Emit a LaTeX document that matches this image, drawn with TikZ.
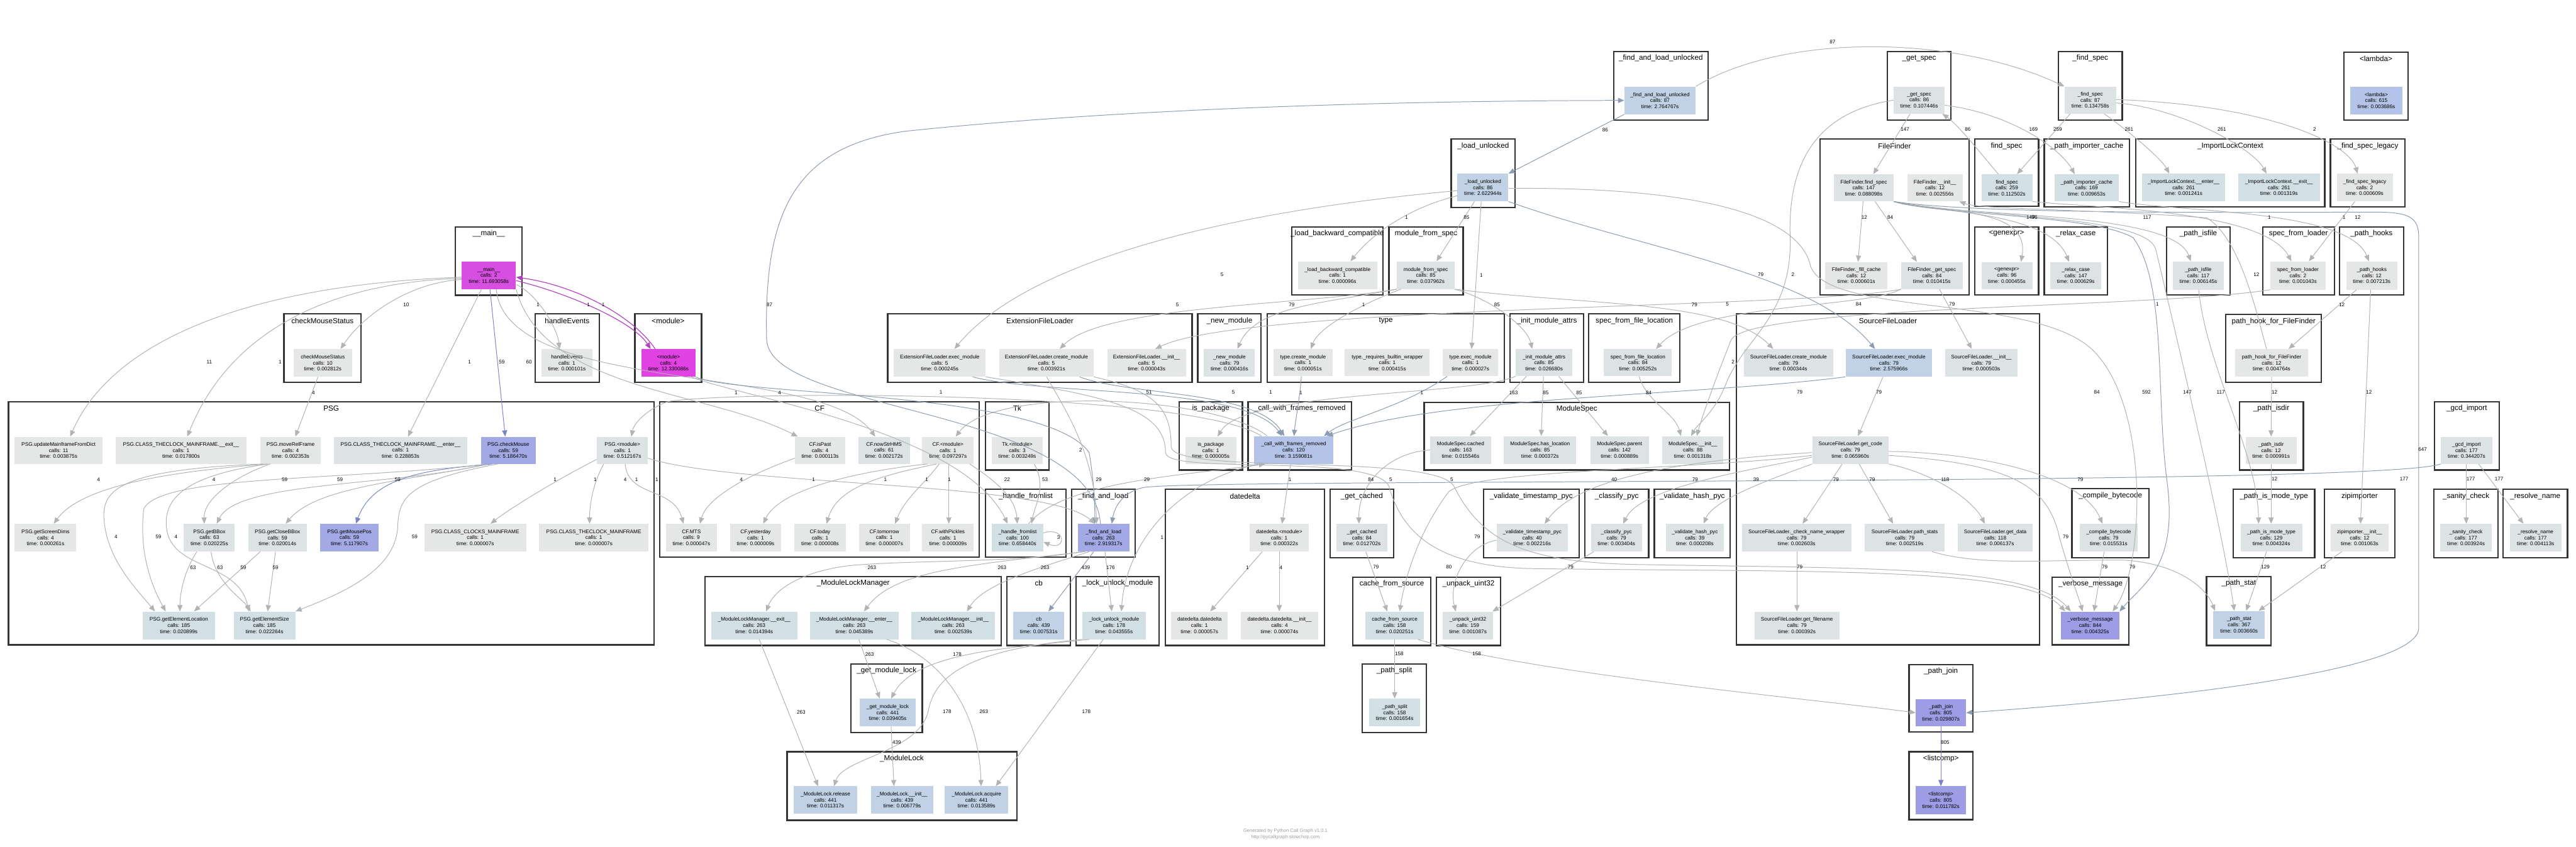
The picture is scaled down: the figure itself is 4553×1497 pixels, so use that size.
\documentclass[tikz,border=0pt]{standalone}
\usepackage{fontspec}
\setmainfont{Liberation Sans}
\usetikzlibrary{arrows.meta,calc}
\definecolor{fGrey}{HTML}{E5E6E6}
\definecolor{fBG}{HTML}{DDE3E5}
\definecolor{fLB}{HTML}{D2E0E5}
\definecolor{fB}{HTML}{C1D2E6}
\definecolor{fBtwo}{HTML}{B4C4E8}
\definecolor{fP}{HTML}{A2A9E4}
\definecolor{fPtwo}{HTML}{9D9DE6}
\definecolor{fMone}{HTML}{D74FE0}
\definecolor{fMtwo}{HTML}{E042E4}
\definecolor{colEG}{HTML}{B0B4B4}
\definecolor{colEB}{HTML}{8E9CB2}
\definecolor{colEP}{HTML}{7C84C8}
\definecolor{colEM}{HTML}{B440C4}
\definecolor{colCL}{HTML}{333333}
\definecolor{colFT}{HTML}{A0A0A0}
\tikzset{
  fnode/.style={rectangle,draw=none,inner sep=0pt,align=center,font=\fontsize{9.2}{10.7}\selectfont},
  cbox/.style={draw=colCL,line width=2.5pt},
  ctitle/.style={inner sep=0pt,font=\fontsize{13}{15}\selectfont},
  elab/.style={inner sep=0pt,font=\fontsize{9}{10}\selectfont},
  edg/.style={draw=colEG,line width=1.1pt,-{Triangle[length=11pt,width=9pt]}},
  edb/.style={draw=colEB,line width=1.1pt,-{Triangle[length=11pt,width=9pt]}},
  edp/.style={draw=colEP,line width=1.1pt,-{Triangle[length=11pt,width=9pt]}},
  edm/.style={draw=colEM,line width=1.3pt,-{Triangle[length=11pt,width=9pt]}},
  foot/.style={inner sep=0pt,text=colFT,font=\fontsize{8.5}{10}\selectfont}
}
\newcommand{\mkn}[7]{\node[fnode,fill=#6,minimum width={(#4)-(#2)},minimum height={(#5)-(#3)}] (#1) at ({((#2)+(#4))/2},{((#3)+(#5))/2}) {#7};}
\newcommand{\mkc}[6]{\draw[cbox] (#2,#3) rectangle (#4,#5); \node[ctitle] (#1) at ({((#2)+(#4))/2},{(#3)+12}) {#6};}
\newcommand{\lbl}[4]{\node[elab] (#1) at (#2,#3) {#4};}
\begin{document}
\begin{tikzpicture}[x=1pt,y=-1pt]
\fill[white] (0,0) rectangle (4553,1497);
\useasboundingbox (0,0) rectangle (4553,1497);
% ---------------- clusters ----------------
\mkc{cFalu}{2852}{91}{3019}{212}{\_find\_and\_load\_unlocked}
\mkc{cGetspec}{3336}{91}{3448}{212}{\_get\_spec}
\mkc{cFindspecu}{3638}{91}{3751}{212}{\_find\_spec}
\mkc{cLambda}{4143}{92}{4256}{212}{<lambda>}
\mkc{cLu}{2565}{246}{2678}{367}{\_load\_unlocked}
\mkc{cFF}{3217}{246}{3480}{521}{FileFinder}
\mkc{cFspec}{3490}{246}{3603}{365}{find\_spec}
\mkc{cPic}{3613}{246}{3764}{366}{\_path\_importer\_cache}
\mkc{cIlc}{3775}{246}{4109}{366}{\_ImportLockContext}
\mkc{cFsl}{4119}{246}{4251}{366}{\_find\_spec\_legacy}
\mkc{cMain}{805}{401}{923}{522}{\_\_main\_\_}
\mkc{cLbc}{2283}{401}{2444}{521}{\_load\_backward\_compatible}
\mkc{cMfs}{2455}{401}{2586}{521}{module\_from\_spec}
\mkc{cGenexpr}{3490}{401}{3603}{521}{<genexpr>}
\mkc{cRelax}{3613}{401}{3725}{521}{\_relax\_case}
\mkc{cPisfile}{3829}{401}{3942}{521}{\_path\_isfile}
\mkc{cSfl}{3999}{401}{4126}{521}{spec\_from\_loader}
\mkc{cPhooks}{4135}{401}{4248}{521}{\_path\_hooks}
\mkc{cCms}{502}{555}{638}{676}{checkMouseStatus}
\mkc{cHev}{946}{555}{1059}{676}{handleEvents}
\mkc{cMod}{1122}{555}{1240}{676}{<module>}
\mkc{cEfl}{1569}{555}{2107}{676}{ExtensionFileLoader}
\mkc{cNewmod}{2117}{555}{2229}{676}{\_new\_module}
\mkc{cType}{2240}{555}{2659}{676}{type}
\mkc{cIma}{2669}{555}{2799}{676}{\_init\_module\_attrs}
\mkc{cSffl}{2808}{555}{2969}{676}{spec\_from\_file\_location}
\mkc{cSrc}{3069}{555}{3605}{1140}{SourceFileLoader}
\mkc{cPhff}{3934}{556}{4103}{676}{path\_hook\_for\_FileFinder}
\mkc{cPSG}{15}{710}{1156}{1140}{PSG}
\mkc{cCF}{1166}{710}{1731}{985}{CF}
\mkc{cTk}{1742}{710}{1854}{831}{Tk}
\mkc{cIspkg}{2084}{710}{2196}{831}{is\_package}
\mkc{cCwfr}{2206}{710}{2389}{831}{\_call\_with\_frames\_removed}
\mkc{cMS}{2517}{711}{3057}{831}{ModuleSpec}
\mkc{cPisdir}{3958}{710}{4071}{831}{\_path\_isdir}
\mkc{cGcd}{4303}{710}{4417}{831}{\_gcd\_import}
\mkc{cHfl}{1742}{865}{1884}{985}{\_handle\_fromlist}
\mkc{cFal}{1894}{865}{2006}{985}{\_find\_and\_load}
\mkc{cDd}{2060}{865}{2341}{1141}{datedelta}
\mkc{cGc}{2351}{865}{2463}{986}{\_get\_cached}
\mkc{cVts}{2622}{865}{2791}{986}{\_validate\_timestamp\_pyc}
\mkc{cCpyc}{2801}{865}{2914}{986}{\_classify\_pyc}
\mkc{cVhp}{2924}{865}{3058}{986}{\_validate\_hash\_pyc}
\mkc{cCompile}{3662}{864}{3798}{986}{\_compile\_bytecode}
\mkc{cPimt}{3947}{865}{4091}{986}{\_path\_is\_mode\_type}
\mkc{cZip}{4108}{865}{4233}{986}{zipimporter}
\mkc{cSanity}{4302}{865}{4415}{986}{\_sanity\_check}
\mkc{cResolve}{4424}{865}{4538}{986}{\_resolve\_name}
\mkc{cMlm}{1246}{1019}{1770}{1141}{\_ModuleLockManager}
\mkc{cCb}{1780}{1019}{1892}{1141}{cb}
\mkc{cLum}{1902}{1019}{2049}{1141}{\_lock\_unlock\_module}
\mkc{cCfs}{2391}{1020}{2529}{1141}{cache\_from\_source}
\mkc{cUnpack}{2539}{1020}{2652}{1141}{\_unpack\_uint32}
\mkc{cVmsg}{3627}{1020}{3763}{1140}{\_verbose\_message}
\mkc{cPstat}{3900}{1019}{4014}{1141}{\_path\_stat}
\mkc{cGml}{1504}{1174}{1630}{1295}{\_get\_module\_lock}
\mkc{cPsplit}{2408}{1174}{2521}{1295}{\_path\_split}
\mkc{cPjoin}{3374}{1175}{3487}{1294}{\_path\_join}
\mkc{cMl}{1391}{1329}{1797}{1450}{\_ModuleLock}
\mkc{cListcomp}{3374}{1329}{3487}{1449}{<listcomp>}
% ---------------- nodes ----------------
\mkn{falu}{2871}{153}{2997}{202}{fB}{\_find\_and\_load\_unlocked\\calls: 87\\time: 2.764767s}
\mkn{getspec}{3347}{153}{3437}{201}{fBG}{\_get\_spec\\calls: 86\\time: 0.107446s}
\mkn{findspecu}{3649}{153}{3740}{201}{fBG}{\_find\_spec\\calls: 87\\time: 0.134758s}
\mkn{lambda}{4154}{153}{4246}{202}{fBtwo}{<lambda>\\calls: 615\\time: 0.003686s}
\mkn{lu}{2576}{307}{2666}{356}{fB}{\_load\_unlocked\\calls: 86\\time: 2.622944s}
\mkn{fffind}{3241}{308}{3347}{356}{fBG}{FileFinder.find\_spec\\calls: 147\\time: 0.088098s}
\mkn{ffinit}{3371}{308}{3469}{356}{fGrey}{FileFinder.\_\_init\_\_\\calls: 12\\time: 0.002556s}
\mkn{fspec}{3502}{308}{3592}{356}{fLB}{find\_spec\\calls: 259\\time: 0.112502s}
\mkn{pic}{3631}{308}{3745}{356}{fLB}{\_path\_importer\_cache\\calls: 169\\time: 0.009653s}
\mkn{ilcenter}{3786}{307}{3933}{356}{fLB}{\_ImportLockContext.\_\_enter\_\_\\calls: 261\\time: 0.001241s}
\mkn{ilcexit}{3956}{307}{4100}{356}{fLB}{\_ImportLockContext.\_\_exit\_\_\\calls: 261\\time: 0.001319s}
\mkn{fsl}{4130}{307}{4229}{356}{fGrey}{\_find\_spec\_legacy\\calls: 2\\time: 0.000609s}
\mkn{main}{816}{462}{912}{511}{fMone}{\_\_main\_\_\\calls: 2\\time: 11.693058s}
\mkn{lbc}{2294}{462}{2434}{511}{fGrey}{\_load\_backward\_compatible\\calls: 1\\time: 0.000096s}
\mkn{mfs}{2469}{462}{2571}{511}{fBG}{module\_from\_spec\\calls: 85\\time: 0.037962s}
\mkn{fffill}{3226}{463}{3336}{511}{fGrey}{FileFinder.\_fill\_cache\\calls: 12\\time: 0.000601s}
\mkn{ffget}{3360}{463}{3469}{511}{fBG}{FileFinder.\_get\_spec\\calls: 84\\time: 0.010415s}
\mkn{genexpr}{3502}{463}{3592}{511}{fBG}{<genexpr>\\calls: 96\\time: 0.000455s}
\mkn{relax}{3624}{463}{3714}{511}{fBG}{\_relax\_case\\calls: 147\\time: 0.000629s}
\mkn{pisfile}{3840}{462}{3931}{512}{fBG}{\_path\_isfile\\calls: 117\\time: 0.006145s}
\mkn{sfl}{4013}{462}{4110}{512}{fGrey}{spec\_from\_loader\\calls: 2\\time: 0.001043s}
\mkn{phooks}{4147}{462}{4237}{512}{fGrey}{\_path\_hooks\\calls: 12\\time: 0.007213s}
\mkn{cms}{519}{617}{622}{666}{fGrey}{checkMouseStatus\\calls: 10\\time: 0.002812s}
\mkn{hev}{957}{617}{1047}{666}{fGrey}{handleEvents\\calls: 1\\time: 0.000101s}
\mkn{mod}{1134}{617}{1229}{666}{fMtwo}{<module>\\calls: 4\\time: 12.330086s}
\mkn{eflexec}{1580}{617}{1742}{666}{fGrey}{ExtensionFileLoader.exec\_module\\calls: 5\\time: 0.000245s}
\mkn{eflcreate}{1766}{617}{1933}{666}{fGrey}{ExtensionFileLoader.create\_module\\calls: 5\\time: 0.003921s}
\mkn{eflinit}{1957}{617}{2096}{666}{fGrey}{ExtensionFileLoader.\_\_init\_\_\\calls: 5\\time: 0.000043s}
\mkn{newmod}{2128}{617}{2218}{666}{fBG}{\_new\_module\\calls: 79\\time: 0.000416s}
\mkn{typecreate}{2251}{617}{2355}{665}{fGrey}{type.create\_module\\calls: 1\\time: 0.000051s}
\mkn{typereq}{2377}{617}{2527}{665}{fGrey}{type.\_requires\_builtin\_wrapper\\calls: 1\\time: 0.000415s}
\mkn{typeexec}{2550}{617}{2648}{665}{fGrey}{type.exec\_module\\calls: 1\\time: 0.000027s}
\mkn{ima}{2679}{617}{2779}{665}{fBG}{\_init\_module\_attrs\\calls: 85\\time: 0.026680s}
\mkn{sffl}{2835}{617}{2955}{665}{fBG}{spec\_from\_file\_location\\calls: 84\\time: 0.005252s}
\mkn{sflcreate}{3082}{617}{3240}{666}{fBG}{SourceFileLoader.create\_module\\calls: 79\\time: 0.000344s}
\mkn{sflexec}{3262}{617}{3415}{666}{fB}{SourceFileLoader.exec\_module\\calls: 79\\time: 2.575966s}
\mkn{sflinit}{3438}{617}{3566}{666}{fBG}{SourceFileLoader.\_\_init\_\_\\calls: 79\\time: 0.000503s}
\mkn{phff}{3951}{617}{4079}{666}{fGrey}{path\_hook\_for\_FileFinder\\calls: 12\\time: 0.004764s}
\mkn{umfd}{26}{772}{181}{820}{fGrey}{PSG.updateMainframeFromDict\\calls: 11\\time: 0.003875s}
\mkn{exittc}{204}{772}{436}{820}{fGrey}{PSG.CLASS\_THECLOCK\_MAINFRAME.\_\_exit\_\_\\calls: 1\\time: 0.017800s}
\mkn{mrf}{460}{772}{567}{820}{fGrey}{PSG.moveRelFrame\\calls: 4\\time: 0.002353s}
\mkn{entertc}{590}{772}{826}{820}{fBG}{PSG.CLASS\_THECLOCK\_MAINFRAME.\_\_enter\_\_\\calls: 1\\time: 0.228853s}
\mkn{chk}{850}{772}{947}{820}{fP}{PSG.checkMouse\\calls: 59\\time: 5.186470s}
\mkn{psgmod}{1055}{772}{1145}{820}{fBG}{PSG.<module>\\calls: 1\\time: 0.512167s}
\mkn{ispast}{1405}{772}{1494}{820}{fGrey}{CF.isPast\\calls: 4\\time: 0.000113s}
\mkn{nowhms}{1517}{772}{1608}{820}{fBG}{CF.nowStrHMS\\calls: 61\\time: 0.002172s}
\mkn{cfmod}{1630}{772}{1721}{820}{fGrey}{CF.<module>\\calls: 1\\time: 0.097297s}
\mkn{tkmod}{1753}{772}{1843}{820}{fGrey}{Tk.<module>\\calls: 3\\time: 0.003249s}
\mkn{ispkg}{2095}{772}{2185}{820}{fGrey}{is\_package\\calls: 1\\time: 0.000005s}
\mkn{cwfr}{2217}{771}{2356}{820}{fBtwo}{\_call\_with\_frames\_removed\\calls: 120\\time: 3.159081s}
\mkn{mscached}{2528}{771}{2635}{820}{fBG}{ModuleSpec.cached\\calls: 163\\time: 0.015546s}
\mkn{mshasloc}{2658}{771}{2786}{820}{fBG}{ModuleSpec.has\_location\\calls: 85\\time: 0.000372s}
\mkn{msparent}{2811}{771}{2914}{820}{fBG}{ModuleSpec.parent\\calls: 142\\time: 0.000889s}
\mkn{msinit}{2938}{771}{3046}{820}{fBG}{ModuleSpec.\_\_init\_\_\\calls: 88\\time: 0.001318s}
\mkn{getcode}{3203}{771}{3338}{820}{fBG}{SourceFileLoader.get\_code\\calls: 79\\time: 0.065960s}
\mkn{pisdir}{3969}{772}{4059}{820}{fGrey}{\_path\_isdir\\calls: 12\\time: 0.000991s}
\mkn{gcd}{4314}{772}{4405}{820}{fBG}{\_gcd\_import\\calls: 177\\time: 0.344207s}
\mkn{gsd}{26}{926}{135}{975}{fGrey}{PSG.getScreenDims\\calls: 4\\time: 0.000261s}
\mkn{gbb}{325}{926}{415}{975}{fBG}{PSG.getBBox\\calls: 63\\time: 0.020225s}
\mkn{gcb}{439}{926}{542}{975}{fBG}{PSG.getCloseBBox\\calls: 59\\time: 0.020014s}
\mkn{gmp}{566}{926}{669}{975}{fP}{PSG.getMousePos\\calls: 59\\time: 5.117907s}
\mkn{clocks}{750}{926}{930}{975}{fGrey}{PSG.CLASS\_CLOCKS\_MAINFRAME\\calls: 1\\time: 0.000007s}
\mkn{theclock}{953}{926}{1146}{975}{fGrey}{PSG.CLASS\_THECLOCK\_MAINFRAME\\calls: 1\\time: 0.000007s}
\mkn{mts}{1177}{926}{1267}{975}{fGrey}{CF.MTS\\calls: 9\\time: 0.000047s}
\mkn{yest}{1290}{926}{1381}{975}{fGrey}{CF.yesterday\\calls: 1\\time: 0.000009s}
\mkn{today}{1404}{926}{1495}{975}{fGrey}{CF.today\\calls: 1\\time: 0.000008s}
\mkn{tomorrow}{1518}{926}{1608}{975}{fGrey}{CF.tomorrow\\calls: 1\\time: 0.000007s}
\mkn{withp}{1630}{926}{1721}{975}{fGrey}{CF.withPickles\\calls: 1\\time: 0.000009s}
\mkn{hfl}{1753}{926}{1844}{975}{fLB}{\_handle\_fromlist\\calls: 100\\time: 0.658440s}
\mkn{fal}{1905}{926}{1996}{975}{fP}{\_find\_and\_load\\calls: 263\\time: 2.919317s}
\mkn{ddmod}{2209}{926}{2313}{975}{fGrey}{datedelta.<module>\\calls: 1\\time: 0.000322s}
\mkn{gc}{2362}{926}{2452}{975}{fBG}{\_get\_cached\\calls: 84\\time: 0.012702s}
\mkn{vts}{2645}{926}{2771}{975}{fBG}{\_validate\_timestamp\_pyc\\calls: 40\\time: 0.002216s}
\mkn{cpyc}{2812}{926}{2902}{975}{fBG}{\_classify\_pyc\\calls: 79\\time: 0.003404s}
\mkn{vhp}{2944}{926}{3047}{975}{fBG}{\_validate\_hash\_pyc\\calls: 39\\time: 0.000208s}
\mkn{cnw}{3079}{926}{3272}{975}{fBG}{SourceFileLoader.\_check\_name\_wrapper\\calls: 79\\time: 0.002603s}
\mkn{pstats}{3296}{926}{3437}{975}{fBG}{SourceFileLoader.path\_stats\\calls: 79\\time: 0.002519s}
\mkn{getdata}{3460}{926}{3593}{975}{fBG}{SourceFileLoader.get\_data\\calls: 118\\time: 0.006137s}
\mkn{compile}{3676}{926}{3778}{975}{fBG}{\_compile\_bytecode\\calls: 79\\time: 0.015531s}
\mkn{pimt}{3960}{926}{4069}{975}{fBG}{\_path\_is\_mode\_type\\calls: 129\\time: 0.004324s}
\mkn{zip}{4119}{926}{4222}{975}{fGrey}{zipimporter.\_\_init\_\_\\calls: 12\\time: 0.001063s}
\mkn{sanity}{4313}{926}{4404}{975}{fBG}{\_sanity\_check\\calls: 177\\time: 0.003924s}
\mkn{resolve}{4436}{926}{4527}{975}{fBG}{\_resolve\_name\\calls: 177\\time: 0.004113s}
\mkn{gel}{252}{1081}{380}{1130}{fLB}{PSG.getElementLocation\\calls: 185\\time: 0.020899s}
\mkn{ges}{413}{1081}{522}{1130}{fLB}{PSG.getElementSize\\calls: 185\\time: 0.022264s}
\mkn{mlmexit}{1257}{1081}{1409}{1130}{fLB}{\_ModuleLockManager.\_\_exit\_\_\\calls: 263\\time: 0.014394s}
\mkn{mlmenter}{1432}{1081}{1588}{1130}{fLB}{\_ModuleLockManager.\_\_enter\_\_\\calls: 263\\time: 0.045389s}
\mkn{mlminit}{1611}{1081}{1759}{1130}{fLB}{\_ModuleLockManager.\_\_init\_\_\\calls: 263\\time: 0.002539s}
\mkn{cb}{1791}{1081}{1881}{1130}{fB}{cb\\calls: 439\\time: 0.007531s}
\mkn{lum}{1913}{1081}{2025}{1130}{fLB}{\_lock\_unlock\_module\\calls: 178\\time: 0.043555s}
\mkn{dddd}{2070}{1081}{2170}{1130}{fGrey}{datedelta.datedelta\\calls: 1\\time: 0.000057s}
\mkn{ddinit}{2193}{1081}{2330}{1130}{fGrey}{datedelta.datedelta.\_\_init\_\_\\calls: 4\\time: 0.000074s}
\mkn{cfs}{2413}{1081}{2517}{1130}{fLB}{cache\_from\_source\\calls: 158\\time: 0.020251s}
\mkn{unpack}{2550}{1081}{2639}{1130}{fBG}{\_unpack\_uint32\\calls: 159\\time: 0.001087s}
\mkn{getfn}{3101}{1081}{3251}{1130}{fBG}{SourceFileLoader.get\_filename\\calls: 79\\time: 0.000392s}
\mkn{vmsg}{3643}{1081}{3746}{1130}{fPtwo}{\_verbose\_message\\calls: 844\\time: 0.004325s}
\mkn{pstat}{3912}{1080}{4003}{1129}{fB}{\_path\_stat\\calls: 367\\time: 0.003660s}
\mkn{gml}{1520}{1235}{1618}{1284}{fB}{\_get\_module\_lock\\calls: 441\\time: 0.039405s}
\mkn{psplit}{2420}{1235}{2510}{1284}{fLB}{\_path\_split\\calls: 158\\time: 0.001654s}
\mkn{pjoin}{3386}{1236}{3475}{1284}{fPtwo}{\_path\_join\\calls: 805\\time: 0.029807s}
\mkn{mlrel}{1403}{1390}{1515}{1438}{fB}{\_ModuleLock.release\\calls: 441\\time: 0.011317s}
\mkn{mlinit}{1539}{1390}{1650}{1438}{fB}{\_ModuleLock.\_\_init\_\_\\calls: 439\\time: 0.006779s}
\mkn{mlacq}{1670}{1390}{1782}{1438}{fB}{\_ModuleLock.acquire\\calls: 441\\time: 0.013589s}
\mkn{listcomp}{3386}{1390}{3475}{1439}{fPtwo}{<listcomp>\\calls: 805\\time: 0.011782s}
% ---------------- edges ----------------
% __main__ and PSG
\draw[edg] (main.west |- 0,494) .. controls (720,500) and (640,560) .. (602,0 |- cms.north);
\draw[edg] (main.west |- 0,490) .. controls (400,505) and (190,620) .. (124,0 |- umfd.north);
\draw[edg] (main.west |- 0,492) .. controls (560,500) and (400,600) .. (331,0 |- exittc.north);
\draw[edg] (851,0 |- main.south) -- (721,0 |- entertc.north);
\draw[edp] (866,0 |- main.south) -- (893,0 |- chk.north);
\draw[edg] (877,0 |- main.south) .. controls (895,700) and (1450,640) .. (1547,0 |- nowhms.north);
\draw[edg] (main.south east) .. controls (960,690) and (1250,690) .. (1410,0 |- ispast.north);
\draw[edg] (main.east |- 0,503) .. controls (950,520) and (985,580) .. (989,0 |- hev.north);
\draw[edm] (main.east |- 0,496) .. controls (1010,520) and (1120,570) .. (1150,0 |- mod.north);
\draw[edm] (1158,0 |- mod.north) .. controls (1120,560) and (1020,505) .. (main.east |- 0,490);
\draw[edg] (562,0 |- cms.south) -- (522,0 |- mrf.north);
\draw[edg] (472,0 |- mrf.south) .. controls (350,830) and (150,850) .. (95,0 |- gsd.north);
\draw[edg] (478,0 |- mrf.south) .. controls (420,840) and (360,880) .. (361,0 |- gbb.north);
\draw[edg] (860,0 |- chk.south) .. controls (700,860) and (420,850) .. (383,0 |- gbb.north);
\draw[edg] (865,0 |- chk.south) .. controls (720,850) and (560,860) .. (505,0 |- gcb.north);
\draw[edp] (870,0 |- chk.south) .. controls (760,830) and (660,840) .. (629,0 |- gmp.north);
\draw[edg] (466,0 |- mrf.south) .. controls (200,830) and (180,870) .. (184,920) .. controls (190,990) and (240,1040) .. (274,0 |- gel.north);
\draw[edg] (862,0 |- chk.south) .. controls (600,850) and (280,840) .. (254,900) .. controls (245,980) and (270,1040) .. (293,0 |- gel.north);
\draw[edg] (474,0 |- mrf.south) .. controls (330,840) and (290,880) .. (294,930) .. controls (300,1010) and (420,990) .. (440,0 |- ges.north);
\draw[edg] (880,0 |- chk.south) .. controls (720,850) and (705,880) .. (703,930) .. controls (700,1010) and (600,1050) .. (ges.north east);
\draw[edg] (348,0 |- gbb.south) .. controls (325,1010) and (318,1050) .. (318,0 |- gel.north);
\draw[edg] (373,0 |- gbb.south) .. controls (380,1030) and (430,1060) .. (443,0 |- ges.north);
\draw[edg] (460,0 |- gcb.south) -- (343,0 |- gel.north);
\draw[edg] (487,0 |- gcb.south) -- (473,0 |- ges.north);
\draw[edg] (psgmod.west |- 0,812) .. controls (980,850) and (900,900) .. (867,0 |- clocks.north);
\draw[edg] (1067,0 |- psgmod.south) .. controls (1045,860) and (1042,900) .. (1042,0 |- theclock.north);
\draw[edg] (1105,0 |- psgmod.south) .. controls (1110,880) and (1190,860) .. (1208,0 |- mts.north);
\draw[edg] (ispast.west |- 0,810) .. controls (1320,840) and (1250,880) .. (1237,0 |- mts.north);
\draw[edg] (1640,0 |- cfmod.south) .. controls (1540,830) and (1380,860) .. (1349,0 |- yest.north);
\draw[edg] (1655,0 |- cfmod.south) .. controls (1560,840) and (1480,860) .. (1461,0 |- today.north);
\draw[edg] (1660,0 |- cfmod.south) .. controls (1630,860) and (1600,880) .. (1582,0 |- tomorrow.north);
\draw[edg] (1677,0 |- cfmod.south) -- (1677,0 |- withp.north);
% modules and imports
\draw[edg] (2230,0 |- cwfr.north) .. controls (2100,690) and (1300,690) .. (1180,710) .. controls (1140,725) and (1120,750) .. (1116,0 |- psgmod.north);
\draw[edg] (2240,0 |- cwfr.north) .. controls (2150,700) and (1760,680) .. (1689,0 |- cfmod.north);
\draw[edg] (2281,0 |- cwfr.south) -- (2266,0 |- ddmod.north);
\draw[edb] (mod.south east) .. controls (1300,700) and (1850,690) .. (1925,800) .. controls (1935,860) and (1935,900) .. (1935,0 |- fal.north);
\draw[edb] (1945,0 |- fal.north) .. controls (1930,720) and (1360,730) .. (1355,600) .. controls (1350,380) and (1400,260) .. (1600,232) .. controls (2000,190) and (2500,178) .. (falu.west);
\draw[edg] (1222,0 |- mod.south) .. controls (1300,700) and (1700,760) .. (1781,0 |- hfl.north);
\draw[edg] (psgmod.east |- 0,810) .. controls (1300,860) and (1850,850) .. (1935,0 |- fal.north);
\draw[edg] (1714,0 |- cfmod.south) .. controls (1760,850) and (1795,880) .. (1798,0 |- hfl.north);
\draw[edg] (1828,0 |- tkmod.south) .. controls (1850,860) and (1830,890) .. (1823,0 |- hfl.north);
\draw[edg] (1850,0 |- eflcreate.south) .. controls (1880,720) and (1935,800) .. (1938,0 |- fal.north);
\draw[edg] (1818,0 |- hfl.north) .. controls (1880,850) and (2100,840) .. (2236,0 |- cwfr.south);
\draw[edg] (hfl.east |- 0,942) .. controls (1885,930) and (1885,975) .. (hfl.east |- 0,958);
\draw[edb] (gcd.south west) .. controls (4200,860) and (2100,845) .. (2020,862) .. controls (1985,870) and (1970,895) .. (1965,0 |- fal.north);
\draw[edg] (2225,0 |- cwfr.south) .. controls (2080,850) and (1990,960) .. (1982,0 |- lum.north);
\draw[edg] (1913,0 |- fal.south) .. controls (1800,995) and (1600,990) .. (1500,1000) .. controls (1420,1010) and (1370,1040) .. (1354,0 |- mlmexit.north);
\draw[edg] (1918,0 |- fal.south) .. controls (1700,1000) and (1580,1010) .. (1527,0 |- mlmenter.north);
\draw[edg] (1925,0 |- fal.south) .. controls (1850,1000) and (1740,1030) .. (1709,0 |- mlminit.north);
\draw[edb] (1933,0 |- fal.south) -- (1853,0 |- cb.north);
\draw[edg] (1953,0 |- fal.south) -- (1965,0 |- lum.north);
\draw[edg] (1518,0 |- mlmenter.south) -- (1555,0 |- gml.north);
\draw[edg] (1925,0 |- lum.south) .. controls (1800,1145) and (1620,1150) .. (1575,0 |- gml.north);
\draw[edg] (1575,0 |- gml.south) -- (1580,0 |- mlinit.north);
\draw[edg] (1342,0 |- mlmexit.south) -- (1446,0 |- mlrel.north);
\draw[edg] (lum.south west) .. controls (1700,1150) and (1650,1200) .. (1640,1260) .. controls (1620,1330) and (1490,1340) .. (1474,0 |- mlrel.north);
\draw[edg] (1567,0 |- mlmenter.south) .. controls (1660,1160) and (1730,1250) .. (1734,0 |- mlacq.north);
\draw[edg] (1950,0 |- lum.south) -- (1760,0 |- mlacq.north);
\draw[edg] (2231,0 |- ddmod.south) -- (2139,0 |- dddd.north);
\draw[edg] (2261,0 |- ddmod.south) -- (2261,0 |- ddinit.north);
% load machinery
\draw[edb] (falu.south west) -- (lu.north east);
\draw[edg] (falu.north east) .. controls (3150,60) and (3450,60) .. (findspecu.north west);
\draw[edg] (lu.west |- 0,346) .. controls (2480,370) and (2420,420) .. (2387,0 |- lbc.north);
\draw[edg] (2606,0 |- lu.south) -- (2539,0 |- mfs.north);
\draw[edg] (2618,0 |- lu.south) -- (2601,0 |- typeexec.north);
\draw[edg] (lu.west |- 0,337) .. controls (2100,380) and (1800,480) .. (1687,0 |- eflexec.north);
\draw[edb] (lu.south east) .. controls (2900,440) and (3200,480) .. (3314,0 |- sflexec.north);
\draw[edg] (lu.east |- 0,333) .. controls (3000,330) and (3180,380) .. (3200,470) .. controls (3230,560) and (3600,520) .. (3700,620) .. controls (3800,720) and (3790,1000) .. (3734,0 |- vmsg.north);
\draw[edg] (mfs.south east) .. controls (2640,530) and (2700,580) .. (2708,0 |- ima.north);
\draw[edg] (2476,0 |- mfs.south) .. controls (2400,540) and (2330,580) .. (2317,0 |- typecreate.north);
\draw[edg] (mfs.south west) .. controls (2350,535) and (2220,540) .. (2187,0 |- newmod.north);
\draw[edg] (mfs.south west) .. controls (2300,540) and (1950,540) .. (1873,0 |- eflcreate.north);
\draw[edg] (ffget.south west) .. controls (3200,545) and (2200,540) .. (2042,0 |- eflinit.north);
\draw[edg] (mfs.south east) .. controls (2800,540) and (3050,530) .. (3134,0 |- sflcreate.north);
\draw[edg] (ima.south west) .. controls (2600,700) and (2200,690) .. (2152,0 |- ispkg.north);
\draw[edb] (2300,0 |- typecreate.south) .. controls (2298,700) and (2290,740) .. (2287,0 |- cwfr.north);
\draw[edb] (2558,0 |- typeexec.south) .. controls (2480,720) and (2380,740) .. (2340,0 |- cwfr.north);
\draw[edb] (1719,0 |- eflexec.south) .. controls (1850,700) and (2200,680) .. (2266,0 |- cwfr.north);
\draw[edb] (1908,0 |- eflcreate.south) .. controls (2000,700) and (2220,690) .. (2270,0 |- cwfr.north);
\draw[edb] (sflexec.south west) .. controls (3000,700) and (2550,700) .. (2345,0 |- cwfr.north);
\draw[edg] (eflexec.south east) .. controls (1950,700) and (2060,720) .. (2060,800) .. controls (2060,840) and (2430,800) .. (2455,860) .. controls (2480,950) and (2550,1000) .. (2700,1005) .. controls (3200,1012) and (3580,1000) .. (3650,0 |- vmsg.north);
\draw[edg] (eflcreate.south east) .. controls (2040,690) and (2070,720) .. (2070,790) .. controls (2075,840) and (2540,800) .. (2570,860) .. controls (2620,960) and (2700,995) .. (2900,998) .. controls (3300,1005) and (3590,1000) .. (3660,0 |- vmsg.north);
\draw[edg] (2698,0 |- ima.south) -- (2598,0 |- mscached.north);
\draw[edg] (2728,0 |- ima.south) -- (2724,0 |- mshasloc.north);
\draw[edg] (2755,0 |- ima.south) -- (2842,0 |- msparent.north);
\draw[edg] (2897,0 |- sffl.south) .. controls (2910,710) and (2960,730) .. (2971,0 |- msinit.north);
\draw[edg] (getspec.west) .. controls (3200,200) and (3160,300) .. (3164,420) .. controls (3168,560) and (3080,600) .. (3050,680) .. controls (3030,730) and (3000,750) .. (2989,0 |- msinit.north);
\draw[edg] (sfl.south west) .. controls (3800,545) and (3100,540) .. (3060,600) .. controls (3040,650) and (3010,730) .. (2999,0 |- msinit.north);
\draw[edg] (mscached.west) .. controls (2450,800) and (2400,860) .. (2402,0 |- gc.north);
\draw[edg] (2414,0 |- gc.south) -- (2452,0 |- cfs.north);
\draw[edg] (getcode.west |- 0,805) .. controls (3000,830) and (2600,830) .. (2560,870) .. controls (2500,950) and (2480,1040) .. (2474,0 |- cfs.north);
\draw[edg] (vts.west |- 0,955) .. controls (2590,965) and (2560,1030) .. (2573,0 |- unpack.north);
\draw[edg] (2817,0 |- cpyc.south) -- (2638,0 |- unpack.north);
\draw[edg] (getcode.west |- 0,800) .. controls (3050,810) and (2800,830) .. (2730,0 |- vts.north);
\draw[edg] (getcode.west |- 0,808) .. controls (3100,830) and (2900,860) .. (2869,0 |- cpyc.north);
\draw[edg] (getcode.south west) .. controls (3150,840) and (3030,880) .. (3011,0 |- vhp.north);
\draw[edg] (2465,0 |- cfs.south) -- (2465,0 |- psplit.north);
\draw[edg] (2506,0 |- cfs.south) .. controls (2700,1190) and (3200,1235) .. (pjoin.west);
% SourceFileLoader
\draw[edg] (3328,0 |- sflexec.south) -- (3284,0 |- getcode.north);
\draw[edg] (3256,0 |- getcode.south) -- (3186,0 |- cnw.north);
\draw[edg] (3286,0 |- getcode.south) -- (3346,0 |- pstats.north);
\draw[edg] (getcode.south east) .. controls (3430,840) and (3490,890) .. (3508,0 |- getdata.north);
\draw[edg] (getcode.east |- 0,805) .. controls (3560,820) and (3620,860) .. (3640,950) .. controls (3660,1020) and (3675,1060) .. (3681,0 |- vmsg.north);
\draw[edg] (getcode.east |- 0,798) .. controls (3500,800) and (3680,840) .. (3716,0 |- compile.north);
\draw[edg] (3176,0 |- cnw.south) -- (3176,0 |- getfn.north);
\draw[edg] (3719,0 |- compile.south) -- (3701,0 |- vmsg.north);
\draw[edg] (3415,0 |- pstats.south) .. controls (3500,1000) and (3600,990) .. (3750,990) .. controls (3850,995) and (3900,1040) .. (3915,0 |- pstat.north);
% finders
\draw[edg] (3659,0 |- findspecu.south) -- (3565,0 |- fspec.north);
\draw[edg] (3719,0 |- findspecu.south) .. controls (3760,230) and (3820,280) .. (3834,0 |- ilcenter.north);
\draw[edg] (findspecu.east |- 0,182) .. controls (3850,190) and (3980,260) .. (4006,0 |- ilcexit.north);
\draw[edg] (findspecu.east |- 0,176) .. controls (4000,185) and (4150,250) .. (4167,0 |- fsl.north);
\draw[edg] (3532,0 |- fspec.north) .. controls (3500,270) and (3460,220) .. (3433,0 |- getspec.south);
\draw[edg] (3376,0 |- getspec.south) -- (3311,0 |- fffind.north);
\draw[edg] (getspec.east |- 0,186) .. controls (3550,200) and (3640,260) .. (3667,0 |- pic.north);
\draw[edg] (3293,0 |- fffind.south) -- (3284,0 |- fffill.north);
\draw[edg] (3314,0 |- fffind.south) -- (3388,0 |- ffget.north);
\draw[edg] (fffind.south east) .. controls (3400,375) and (3620,370) .. (3657,0 |- relax.north);
\draw[edg] (fffind.south east) .. controls (3420,380) and (3590,360) .. (3572,0 |- genexpr.north);
\draw[edg] (fffind.south east) .. controls (3450,385) and (3840,370) .. (3872,0 |- pisfile.north);
\draw[edg] (fffind.south east) .. controls (3500,385) and (3790,380) .. (3810,440) .. controls (3860,650) and (3930,950) .. (3949,0 |- pstat.north);
\draw[edb] (fffind.south east) .. controls (3500,380) and (4000,375) .. (4200,375) .. controls (4260,375) and (4275,385) .. (4275,420) -- (4275,1110) .. controls (4275,1180) and (3900,1230) .. (pjoin.east);
\draw[edb] (fffind.south east) .. controls (3450,382) and (3700,380) .. (3770,420) .. controls (3830,500) and (3810,700) .. (3830,850) .. controls (3850,1000) and (3790,1030) .. (vmsg.north east);
\draw[edg] (3428,0 |- ffget.south) -- (3485,0 |- sflinit.north);
\draw[edg] (ffget.south west) .. controls (3300,545) and (3000,535) .. (2927,0 |- sffl.north);
\draw[edg] (4006,0 |- phff.north) .. controls (3990,560) and (3960,420) .. (3900,385) .. controls (3700,370) and (3500,370) .. (3463,0 |- ffinit.south);
\draw[edg] (4165,0 |- phooks.south) -- (4045,0 |- phff.north);
\draw[edg] (pic.south east) .. controls (3850,375) and (4150,370) .. (4187,0 |- phooks.north);
\draw[edg] (4162,0 |- fsl.south) -- (4081,0 |- sfl.north);
\draw[edg] (fspec.south east) .. controls (3700,368) and (4000,370) .. (4050,0 |- sfl.north);
\draw[edg] (4015,0 |- phff.south) -- (4014,0 |- pisdir.north);
\draw[edg] (4014,0 |- pisdir.south) -- (4014,0 |- pimt.north);
\draw[edg] (3886,0 |- pisfile.south) .. controls (3900,650) and (3990,800) .. (3992,0 |- pimt.north);
\draw[edg] (4006,0 |- pimt.south) -- (3970,0 |- pstat.north);
\draw[edg] (4139,0 |- zip.south) -- (3992,0 |- pstat.north);
\draw[edg] (4190,0 |- phooks.south) -- (4172,0 |- zip.north);
\draw[edg] (4359,0 |- gcd.south) -- (4359,0 |- sanity.north);
\draw[edg] (4381,0 |- gcd.south) -- (4460,0 |- resolve.north);
\draw[edp] (pjoin.south) -- (listcomp.north);
% ---------------- edge labels ----------------
\lbl{la1}{370}{640}{11}
\lbl{la2}{495}{640}{1}
\lbl{la3}{718}{539}{10}
\lbl{la4}{554}{694}{4}
\lbl{la5}{174}{848}{4}
\lbl{la6}{378}{848}{4}
\lbl{la7}{503}{848}{59}
\lbl{la8}{601}{848}{59}
\lbl{la9}{703}{848}{59}
\lbl{la10}{205}{949}{4}
\lbl{la11}{280}{949}{59}
\lbl{la12}{311}{949}{4}
\lbl{la13}{733}{949}{59}
\lbl{la14}{341}{1003}{63}
\lbl{la15}{389}{1003}{63}
\lbl{la16}{430}{1003}{59}
\lbl{la17}{487}{1003}{59}
\lbl{la18}{951}{539}{1}
\lbl{la19}{1040}{539}{1}
\lbl{la20}{1066}{539}{1}
\lbl{la21}{830}{640}{1}
\lbl{la22}{887}{640}{59}
\lbl{la23}{935}{640}{60}
\lbl{la24}{1360}{539}{87}
\lbl{la25}{1301}{694}{1}
\lbl{la26}{1378}{694}{4}
\lbl{la27}{981}{848}{1}
\lbl{la28}{1052}{848}{1}
\lbl{la29}{1105}{848}{4}
\lbl{la30}{1125}{848}{1}
\lbl{la31}{1161}{848}{1}
\lbl{la32}{1310}{848}{4}
\lbl{la33}{1438}{848}{1}
\lbl{lb1}{2160}{485}{5}
\lbl{lb2}{2081}{539}{5}
\lbl{lb3}{2283}{539}{79}
\lbl{lb4}{1663}{693}{1}
\lbl{lb5}{2031}{693}{51}
\lbl{lb6}{2180}{693}{5}
\lbl{lb7}{2246}{693}{1}
\lbl{lb8}{1565}{848}{1}
\lbl{lb9}{1638}{848}{1}
\lbl{lb10}{1678}{848}{1}
\lbl{lb11}{1780}{848}{22}
\lbl{lb12}{1847}{848}{53}
\lbl{lb13}{1942}{848}{29}
\lbl{lb14}{2027}{848}{29}
\lbl{lb15}{2280}{848}{1}
\lbl{lb16}{1910}{795}{2}
\lbl{lb17}{1871}{950}{3}
\lbl{lb18}{2054}{950}{1}
\lbl{lb19}{1541}{1003}{263}
\lbl{lb20}{1771}{1003}{263}
\lbl{lb21}{1847}{1003}{263}
\lbl{lb22}{1919}{1003}{439}
\lbl{lb23}{1963}{1003}{176}
\lbl{lb24}{2205}{1003}{1}
\lbl{lb25}{2264}{1003}{4}
\lbl{lb26}{1537}{1157}{263}
\lbl{lb27}{1692}{1157}{178}
\lbl{lb28}{1674}{1258}{178}
\lbl{lb29}{1739}{1258}{263}
\lbl{lb30}{1920}{1258}{178}
\lbl{lb31}{1585}{1312}{439}
\lbl{lb32}{1416}{1259}{263}
\lbl{lc1}{2837}{230}{86}
\lbl{lc2}{2486}{384}{1}
\lbl{lc3}{2592}{384}{85}
\lbl{lc4}{2618}{486}{1}
\lbl{lc5}{2410}{539}{1}
\lbl{lc6}{2646}{539}{85}
\lbl{lc7}{2995}{539}{79}
\lbl{lc8}{3053}{538}{5}
\lbl{lc9}{2299}{694}{1}
\lbl{lc10}{2513}{694}{1}
\lbl{lc11}{2675}{694}{163}
\lbl{lc12}{2732}{694}{85}
\lbl{lc13}{2791}{694}{85}
\lbl{lc14}{2914}{694}{84}
\lbl{lc15}{2423}{848}{84}
\lbl{lc16}{2458}{848}{5}
\lbl{lc17}{2566}{848}{5}
\lbl{lc18}{2853}{848}{40}
\lbl{lc19}{2996}{848}{79}
\lbl{lc20}{2611}{949}{79}
\lbl{lc21}{2432}{1002}{79}
\lbl{lc22}{2561}{1002}{80}
\lbl{lc23}{2776}{1002}{79}
\lbl{lc24}{2473}{1156}{158}
\lbl{lc25}{2610}{1156}{158}
\lbl{ld1}{3239}{74}{87}
\lbl{ld2}{3367}{229}{147}
\lbl{ld3}{3478}{229}{86}
\lbl{ld4}{3594}{229}{169}
\lbl{ld5}{3637}{229}{259}
\lbl{ld6}{3763}{229}{261}
\lbl{ld7}{3295}{384}{12}
\lbl{ld8}{3341}{384}{84}
\lbl{ld9}{3589}{384}{147}
\lbl{ld10}{3596}{384}{96}
\lbl{ld11}{3795}{384}{117}
\lbl{ld12}{3112}{485}{79}
\lbl{ld13}{3169}{485}{2}
\lbl{ld14}{3285}{538}{84}
\lbl{ld15}{3450}{538}{79}
\lbl{ld16}{3813}{538}{1}
\lbl{ld17}{3063}{640}{2}
\lbl{ld18}{3181}{693}{79}
\lbl{ld19}{3321}{693}{79}
\lbl{ld20}{3706}{693}{84}
\lbl{ld21}{3794}{693}{592}
\lbl{le1}{3104}{848}{39}
\lbl{le2}{3245}{848}{79}
\lbl{le3}{3309}{848}{79}
\lbl{le4}{3438}{848}{118}
\lbl{le5}{3677}{848}{79}
\lbl{le6}{3181}{1002}{79}
\lbl{le7}{3651}{949}{79}
\lbl{le8}{3720}{1002}{79}
\lbl{le9}{3769}{1002}{79}
\lbl{le10}{3438}{1312}{805}
\lbl{lf1}{3927}{229}{261}
\lbl{lf2}{4091}{229}{2}
\lbl{lf3}{4011}{384}{1}
\lbl{lf4}{4143}{384}{1}
\lbl{lf5}{4167}{384}{12}
\lbl{lf6}{3988}{485}{12}
\lbl{lf7}{4139}{539}{12}
\lbl{lf8}{3866}{693}{147}
\lbl{lf9}{3925}{693}{117}
\lbl{lf10}{4020}{693}{12}
\lbl{lf11}{4187}{693}{12}
\lbl{lf12}{4282}{794}{647}
\lbl{lf13}{4020}{847}{12}
\lbl{lf14}{4249}{847}{177}
\lbl{lf15}{4367}{847}{177}
\lbl{lf16}{4417}{847}{177}
\lbl{lf17}{4004}{1002}{129}
\lbl{lf18}{4106}{1002}{12}
% footer
\node[foot] (foot1) at (2272,1469) {Generated by Python Call Graph v1.0.1};
\node[foot] (foot2) at (2272,1480) {http://pycallgraph.slowchop.com};
\end{tikzpicture}
\end{document}
